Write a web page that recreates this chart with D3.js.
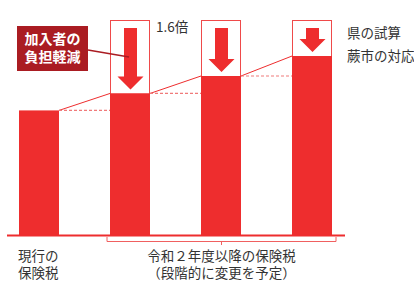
<!DOCTYPE html>
<html><head><meta charset="utf-8">
<script src="https://cdn.jsdelivr.net/npm/d3@7"></script>
<style>
html,body{margin:0;padding:0;background:#fff;}
svg{display:block;font-family:"Noto Sans CJK JP","Noto Sans",sans-serif;}
</style></head>
<body>
<svg id="chart" width="414" height="281"></svg>
<script>
// data
const categories = ["現行", "段階1", "段階2", "段階3"];
const barValues = [100, 113.5, 127.4, 143.3];       // 蕨市の対応
const prefValues = [null, 172, 172, 172];           // 県の試算
const ratioLabel = "1.6倍";
const legendLabels = ["県の試算", "蕨市の対応"];
const calloutLines = ["加入者の", "負担軽減"];
const currentLabel = ["現行の", "保険税"];
const futureLabel = ["令和２年度以降の保険税", "（段階的に変更を予定）"];

const RED = "#ee2d2e", DARK = "#aa1c22", TEXT = "#333";
const svg = d3.select("#chart");

const x = d3.scaleBand().domain(categories).range([19, 332]).paddingInner(51/91).paddingOuter(0);
const y = d3.scaleLinear().domain([0, 172]).range([236, 20]);
const bw = x.bandwidth();

// connector lines (solid diagonal + dashed horizontal)
for (let i = 0; i < categories.length - 1; i++) {
  const x1 = x(categories[i]) + bw, x2 = x(categories[i+1]);
  svg.append("line").attr("x1", x1).attr("y1", y(barValues[i])).attr("x2", x2).attr("y2", y(barValues[i+1]))
    .attr("stroke", RED).attr("stroke-width", 1);
  svg.append("line").attr("x1", x1).attr("y1", y(barValues[i])).attr("x2", x2).attr("y2", y(barValues[i]))
    .attr("stroke", "#f07a7a").attr("stroke-width", 1.2).attr("stroke-dasharray", "3,2");
}

// pref estimate boxes
categories.forEach((c, i) => {
  if (prefValues[i] == null) return;
  svg.append("rect").attr("x", x(c) + 0.5).attr("y", y(prefValues[i]) + 0.5)
    .attr("width", bw - 1).attr("height", y(barValues[i]) - y(prefValues[i]))
    .attr("fill", "#fff").attr("stroke", "#ef4a4a").attr("stroke-width", 1);
});

// bars
svg.selectAll("rect.bar").data(barValues).join("rect").attr("class", "bar")
  .attr("x", (d, i) => x(categories[i])).attr("y", d => y(d))
  .attr("width", bw).attr("height", d => y(0) - y(d)).attr("fill", RED);

// arrows
categories.forEach((c, i) => {
  if (prefValues[i] == null) return;
  const cx = x(c) + bw / 2 + 0.5;
  const top = y(prefValues[i]) + 8, tip = y(barValues[i]) - 4;
  const hh = 13, sw = 6.5, hw = 13;
  const p = d3.path();
  p.moveTo(cx - sw, top); p.lineTo(cx + sw, top); p.lineTo(cx + sw, tip - hh);
  p.lineTo(cx + hw, tip - hh); p.lineTo(cx, tip); p.lineTo(cx - hw, tip - hh);
  p.lineTo(cx - sw, tip - hh); p.closePath();
  svg.append("path").attr("d", p.toString()).attr("fill", RED);
});

// axis baseline
svg.append("line").attr("x1", 7).attr("x2", 345).attr("y1", y(0) - 0.5).attr("y2", y(0) - 0.5)
  .attr("stroke", RED).attr("stroke-width", 2);

// bracket
const bx1 = x(categories[1]) - 3, bx2 = x(categories[3]) + bw + 4, bmid = (bx1 + bx2) / 2;
svg.append("path").attr("d", `M${bx1},${y(0)+1}V241.5H${bx2}V${y(0)+1}M${bmid},241.5V245`)
  .attr("fill", "none").attr("stroke", "#f06060").attr("stroke-width", 1);

// callout
svg.append("line").attr("x1", 88).attr("y1", 50).attr("x2", 129).attr("y2", 57)
  .attr("stroke", DARK).attr("stroke-width", 1.3);
svg.append("rect").attr("x", 17).attr("y", 26).attr("width", 71).attr("height", 45).attr("fill", DARK);
svg.selectAll("text.call").data(calloutLines).join("text").attr("class", "call")
  .attr("x", 52.5).attr("y", (d, i) => 44 + i * 18).attr("text-anchor", "middle")
  .attr("fill", "#fff").attr("font-size", 14).attr("font-weight", "bold").text(d => d);

// labels
svg.append("text").attr("x", 156).attr("y", 32).attr("font-size", 13.5).attr("fill", TEXT).text(ratioLabel);
svg.selectAll("text.leg").data(legendLabels).join("text").attr("class", "leg")
  .attr("x", 347).attr("y", (d, i) => 38 + i * 23).attr("font-size", 13.5).attr("fill", TEXT).text(d => d);
svg.selectAll("text.cur").data(currentLabel).join("text").attr("class", "cur")
  .attr("x", 18).attr("y", (d, i) => 261 + i * 17).attr("font-size", 13.5).attr("fill", TEXT).text(d => d);
svg.selectAll("text.fut").data(futureLabel).join("text").attr("class", "fut")
  .attr("x", bmid).attr("y", (d, i) => 261 + i * 17).attr("text-anchor", "middle")
  .attr("font-size", 13.5).attr("fill", TEXT).text(d => d);
</script>
</body></html>
